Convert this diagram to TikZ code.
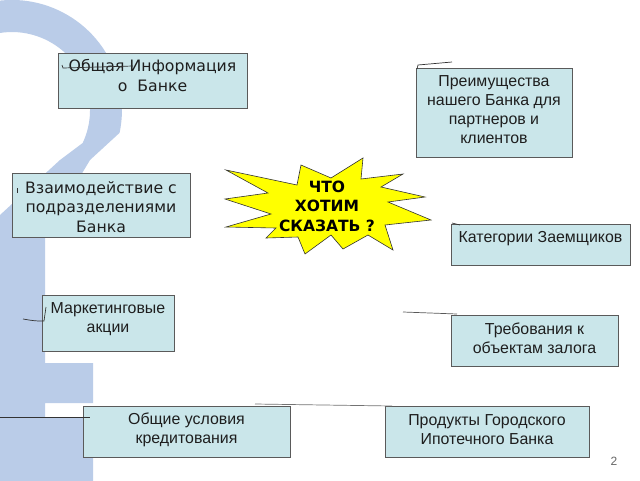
\documentclass[tikz,border=0pt]{standalone}
\usepackage{fontspec}
\newfontfamily\dvs{DejaVu Sans}
\newfontfamily\lib{Liberation Sans}
\definecolor{qblue}{RGB}{186,204,232}
\definecolor{boxfill}{RGB}{202,230,234}
\definecolor{boxline}{RGB}{90,90,90}
\definecolor{txt}{RGB}{30,30,30}
\definecolor{starfill}{RGB}{255,255,0}
\begin{document}
\begin{tikzpicture}[x=1pt,y=-1pt,
  box/.style={draw=boxline, line width=0.9pt, fill=boxfill, inner sep=0pt},
  vtxt/.style={inner sep=0pt, align=center, text=txt, font=\dvs\fontsize{15.7}{19.5}\selectfont},
  atxt/.style={inner sep=0pt, align=center, text=txt, font=\lib\fontsize{15.9}{19}\selectfont},
  stray/.style={draw=black!80, line width=0.7pt}]
\useasboundingbox (0,0) rectangle (640,480);
\fill[white] (0,0) rectangle (640,480);
% background question mark
\fill[qblue] (-91.4,147.6) arc[start angle=160,end angle=372,radius=110]
  -- (90,160) -- (45,235) -- (45,363) -- (93,363) -- (93,403) -- (45,403)
  -- (45,417) -- (93,417) -- (93,485) -- (-5,485) -- (-5,215) -- (0,215)
  -- (60,160) -- (82.7,143) arc[start angle=385,end angle=160,radius=78] -- cycle;
% boxes
\node[box, minimum width=189pt, minimum height=55pt] (info) at (152.5,80.5) {};
\node[vtxt] (infot) at (152.5,75.5) {Общая Информация\\о\ \ Банке};
\node[box, minimum width=178pt, minimum height=64pt] (inter) at (101,205) {};
\node[vtxt] (intert) at (101,207) {Взаимодействие с\\подразделениями\\Банка};
\node[box, minimum width=156pt, minimum height=89pt] (adv) at (494,112.5) {};
\node[atxt] (advt) at (494,109.5) {Преимущества\\нашего Банка для\\партнеров и\\клиентов};
\node[box, minimum width=179pt, minimum height=41pt] (cat) at (540.5,244.5) {};
\node[atxt] (catt) at (540.5,238.5) {Категории Заемщиков};
\node[box, minimum width=167pt, minimum height=51pt] (req) at (534.5,340.5) {};
\node[atxt] (reqt) at (534.5,338) {Требования к\\объектам залога};
\node[box, minimum width=204pt, minimum height=51pt] (prod) at (487,431.5) {};
\node[atxt] (prodt) at (487,429.5) {Продукты Городского\\Ипотечного Банка};
\node[box, minimum width=207pt, minimum height=51pt] (cond) at (186.5,431.5) {};
\node[atxt] (condt) at (186.5,429.5) {Общие условия\\кредитования};
\node[box, minimum width=132pt, minimum height=56pt] (mark) at (108,323) {};
\node[atxt] (markt) at (108,319.5) {Маркетинговые\\акции};
% star
\path[draw=black!80, fill=starfill, line width=0.6pt]
  (226,170) -- (297,185) -- (301,165) -- (331,178) -- (363,158) -- (361,179)
  -- (403,174) -- (381,187) -- (425,197) -- (388,202) -- (431,220) -- (385,225)
  -- (393,250) -- (368,235) -- (343,249) -- (331,235) -- (305,254) -- (298,237)
  -- (266,238) -- (276,228) -- (226,227) -- (271,214) -- (225,199) -- (268,193) -- cycle;
\node[font=\dvs\bfseries\fontsize{15.5}{19.5}\selectfont, align=center, text=black] (what) at (327,206) {ЧТО\\ХОТИМ\\СКАЗАТЬ ?};
% stray connector fragments
\coordinate (a1) at (62,65); \coordinate (a2) at (63,68); \coordinate (a3) at (133,66);
\draw[stray] (a1) -- (a2) -- (a3);
\coordinate (b1) at (417,69); \coordinate (b2) at (418,65); \coordinate (b3) at (452,62);
\draw[stray] (b1) -- (b2) -- (b3);
\coordinate (c1) at (17,188); \coordinate (c2) at (17,193);
\draw[stray] (c1) -- (c2);
\coordinate (d1) at (452,223); \coordinate (d2) at (460,225);
\draw[stray] (d1) -- (d2);
\coordinate (e1) at (403,312); \coordinate (e2) at (457,314);
\draw[stray, draw=black!65] (e1) -- (e2);
\coordinate (f1) at (255,404); \coordinate (f2) at (392,406);
\draw[stray, draw=black!55] (f1) -- (f2);
\coordinate (g1) at (0,417); \coordinate (g2) at (90,417);
\draw[stray] (g1) -- (g2);
\coordinate (h1) at (23,319); \coordinate (h2) at (44,321); \coordinate (h3) at (46,307);
\draw[stray] (h1) .. controls (35,321) .. (h2) -- (h3);
% page number
\node[font=\lib\fontsize{12}{14}\selectfont, text=black!60] (pg) at (614,461) {2};
\end{tikzpicture}
\end{document}
